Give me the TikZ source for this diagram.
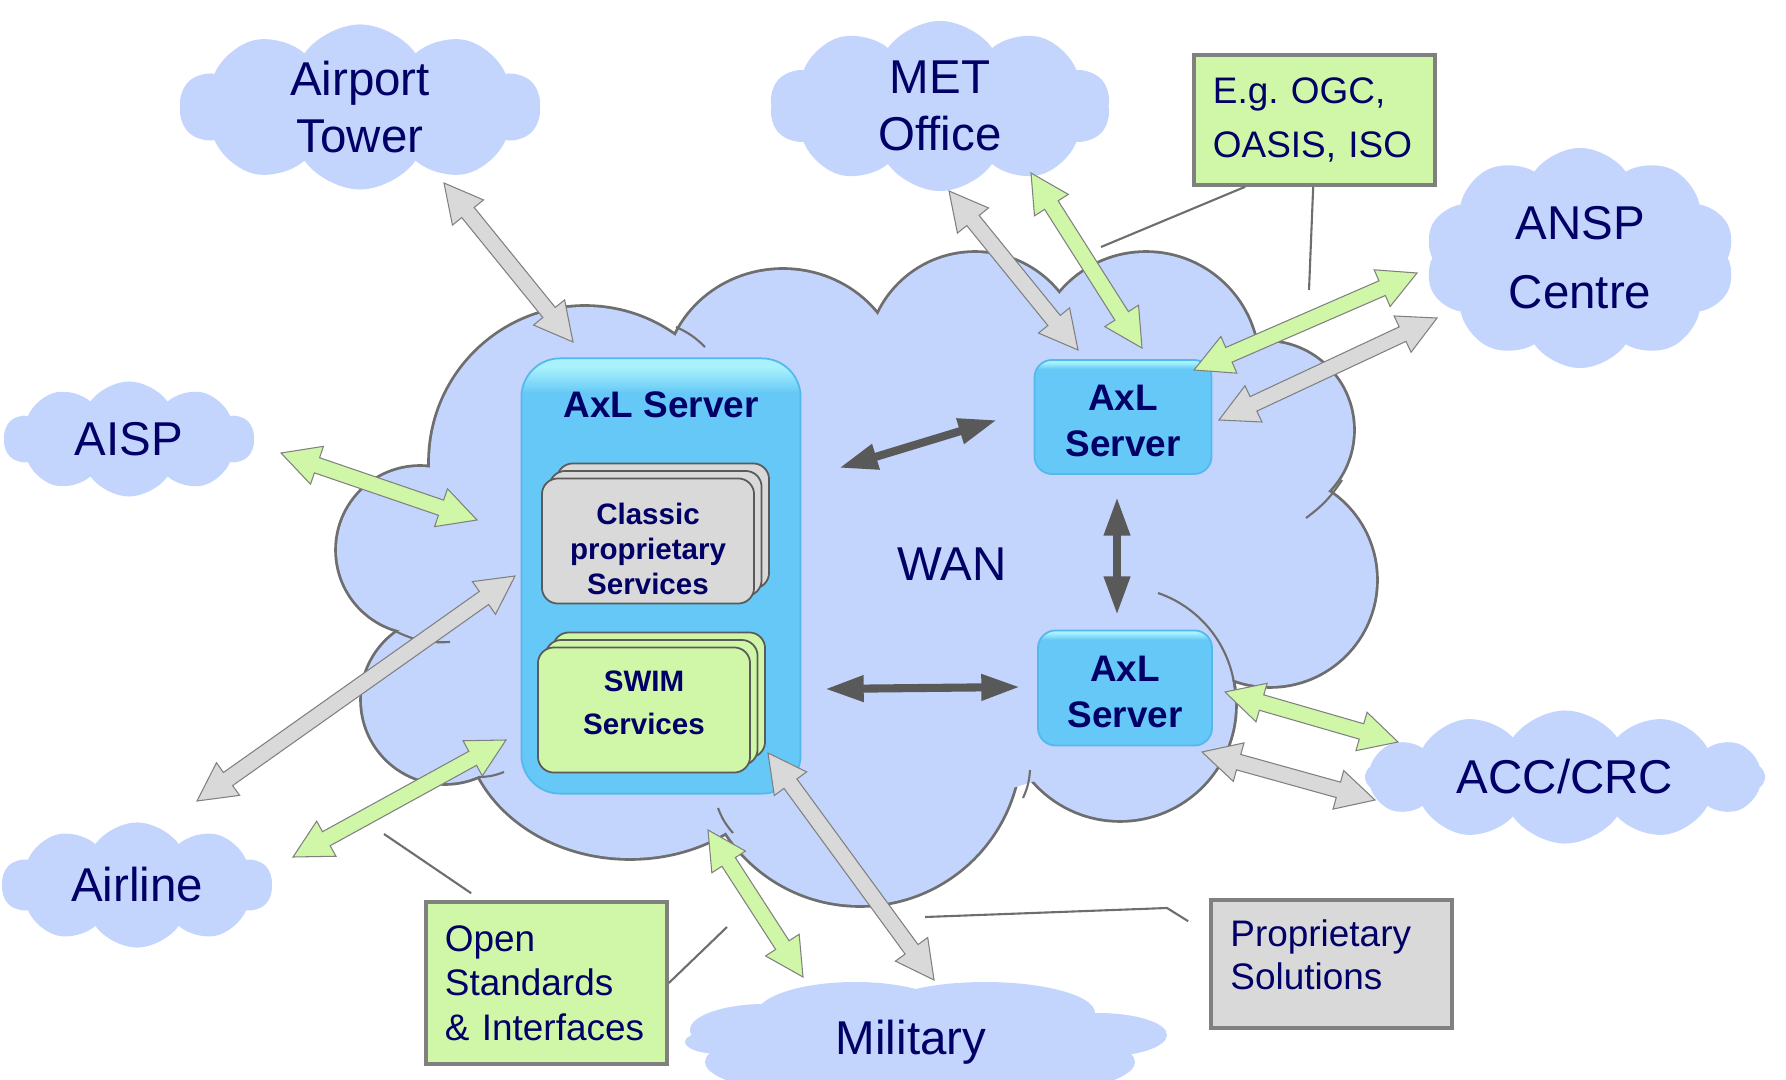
\documentclass[tikz,border=0pt]{standalone}
\usepackage{fontspec}
\setmainfont{Liberation Sans}
\usetikzlibrary{arrows.meta, positioning, calc, shapes.symbols}
\definecolor{navy}{HTML}{000066}
\definecolor{cloudblue}{HTML}{C3D5FD}
\definecolor{cloudline}{HTML}{6E6E6E}
\definecolor{stdgreen}{HTML}{D0F7A8}
\definecolor{propgray}{HTML}{D9D9D9}
\definecolor{edgegray}{HTML}{808080}
\definecolor{cardedge}{HTML}{5A5A5A}
\definecolor{darkarrow}{HTML}{595959}
\definecolor{axlblue}{HTML}{66C8F6}
\definecolor{axlhi}{HTML}{A8F2FC}
\definecolor{axledge}{HTML}{55B8EC}
\pgfdeclareverticalshading{axlglass}{100bp}{color(0bp)=(axlblue); color(71bp)=(axlblue); color(74bp)=(axlhi); color(100bp)=(axlhi)}
\frenchspacing
% double block arrow between two named points
\newcommand\fatarrow[3]{%
  \coordinate (fa1) at ($(#2)!0.38cm!(#3)$);
  \coordinate (fa2) at ($(#3)!0.38cm!(#2)$);
  \draw[#1] (#2) -- ($(fa1)!0.2cm!90:(#3)$) -- ($(fa1)!0.08cm!90:(#3)$)
    -- ($(fa2)!0.08cm!-90:(#2)$) -- ($(fa2)!0.2cm!-90:(#2)$) -- (#3)
    -- ($(fa2)!0.2cm!90:(#2)$) -- ($(fa2)!0.08cm!90:(#2)$)
    -- ($(fa1)!0.08cm!-90:(#3)$) -- ($(fa1)!0.2cm!-90:(#3)$) -- cycle;
}

\begin{document}
\begin{tikzpicture}[x=0.01cm, y=-0.01cm,
  puff/.style={cloud, cloud puffs=10, cloud puff arc=110, cloud ignores aspect,
               fill=cloudblue, inner sep=0pt, text=navy, align=center,
               font=\fontsize{13.5}{16.2}\selectfont},
  server/.style={shade, shading=axlglass, draw=axledge, line width=0.5pt, rounded corners=5pt,
                 text=navy, align=center, font=\bfseries\fontsize{10.5}{13}\selectfont},
  card/.style={draw=cardedge, line width=0.5pt, rounded corners=4.5pt, minimum width=2.12cm,
               minimum height=1.25cm, text=navy, align=center, font=\bfseries\fontsize{8.4}{10}\selectfont},
  note/.style={draw=edgegray, line width=1pt, minimum width=2.41cm, text width=2.03cm,
               inner xsep=0.19cm, align=left, text=navy, font=\fontsize{10.5}{12.6}\selectfont},
  wire/.style={{Triangle[length=11pt, width=7pt]}-{Triangle[length=11pt, width=7pt]},
               line width=2.3pt, draw=darkarrow},
  callout/.style={draw=cloudline, line width=0.6pt},
  greenarrow/.style={fill=stdgreen, draw=edgegray, line width=0.3pt},
  grayarrow/.style={fill=propgray, draw=edgegray, line width=0.3pt},
]
\useasboundingbox (0,0) rectangle (1786,1080);

% WAN cloud: outline first, then fill on top
\foreach \cx/\cy/\rx/\ry in {585/462/155/155, 420/550/83/83, 445/700/83/83, 630/720/165/138,
    860/745/160/160, 1120/705/115/115, 1270/580/106/106, 1265/430/88/88, 1146/365/112/112,
    975/360/107/107, 783/382/118/112}
  \draw[cloudline, line width=1.6pt] (\cx,\cy) ellipse[x radius=\rx, y radius=\ry];
\foreach \cx/\cy/\rx/\ry in {585/462/155/155, 420/550/83/83, 445/700/83/83, 630/720/165/138,
    860/745/160/160, 1120/705/115/115, 1270/580/106/106, 1265/430/88/88, 1146/365/112/112,
    975/360/107/107, 783/382/118/112, 850/580/380/230, 560/620/110/110, 1130/560/130/130}
  \fill[cloudblue] (\cx,\cy) ellipse[x radius=\rx, y radius=\ry];
\draw[callout] (676,327) to[bend left=10] (705,347);
\draw[callout] (393,630) to[bend right=15] (450,642);
\draw[callout] (479,777) to[bend right=10] (504,772);
\draw[callout] (718,808) to[bend right=10] (733,833);
\draw[callout] (1030,770) to[bend left=10] (1023,798);
\draw[callout] (1342,480) to[bend left=10] (1306,518);
\draw[callout] (1158,593) arc[start angle=-71, end angle=0, radius=115];
\node[text=navy, font=\fontsize{13.5}{16}\selectfont] (wan) at (952,564) {WAN};

% outside clouds
\node[puff, minimum width=3.6cm, minimum height=1.65cm] (tower) at (360,107) {Airport\\Tower};
\node[puff, minimum width=3.4cm, minimum height=1.7cm] (met) at (940,106) {MET\\Office};
\node[puff, minimum width=3.1cm, minimum height=2.2cm, font=\fontsize{13.5}{19.7}\selectfont] (ansp) at (1580,258) {ANSP\\Centre};
\node[puff, minimum width=2.5cm, minimum height=1.15cm] (aisp) at (129,439) {AISP};
\node[puff, minimum width=2.7cm, minimum height=1.25cm] (airline) at (137,885) {Airline};
\node[puff, cloud puffs=12, minimum width=4.0cm, minimum height=1.33cm] (acc) at (1565,777) {ACC/CRC};
\foreach \cx/\cy/\rx/\ry in {720/1042/35/12, 765/1030/75/26, 855/1016/100/34, 985/1013/110/31,
    1098/1035/69/22, 920/1062/215/42}
  \fill[cloudblue] (\cx,\cy) ellipse[x radius=\rx, y radius=\ry];
\node[text=navy, font=\fontsize{13.5}{16}\selectfont] (military) at (911,1042) {Military};

% servers
\node[server, rounded corners=11pt, minimum width=2.79cm, minimum height=4.35cm] (mainsrv) at (661,576) {};
\node[text=navy, font=\bfseries\fontsize{10.5}{13}\selectfont] (mainlbl) at (661,405) {AxL Server};
\foreach \k in {2,1}
  \node[card, fill=propgray] (cls\k) at (648+7.5*\k, 541-7.5*\k) {};
\node[card, fill=propgray] (cls) at (648,541) {};
\node[text=navy, align=center, font=\bfseries\fontsize{8.4}{10}\selectfont] (clslbl) at (648,549) {Classic\\proprietary\\Services};
\foreach \k in {2,1}
  \node[card, fill=stdgreen] (swim\k) at (644+7.5*\k, 710-7.5*\k) {};
\node[card, fill=stdgreen] (swim) at (644,710) {};
\node[text=navy, align=center, font=\bfseries\fontsize{8.4}{12.3}\selectfont] (swimlbl) at (644,703) {SWIM\\Services};
\node[server, minimum width=1.77cm, minimum height=1.14cm] (srvA) at (1123,417) {};
\node[text=navy, align=center, font=\bfseries\fontsize{10.5}{13}\selectfont] (srvAlbl) at (1123,421) {AxL\\Server};
\node[server, minimum width=1.74cm, minimum height=1.15cm] (srvB) at (1125,688) {};
\node[text=navy, align=center, font=\bfseries\fontsize{10.5}{13}\selectfont] (srvBlbl) at (1125,692) {AxL\\Server};

% callout boxes
\node[note, fill=stdgreen, minimum height=1.30cm, font=\fontsize{10.5}{15.2}\selectfont] (egbox) at (1314.5,120) {E.g. OGC,\\OASIS, ISO};
\node[note, fill=stdgreen, minimum height=1.62cm] (stdbox) at (546.5,983) {Open\\Standards\\\& Interfaces};
\node[note, fill=propgray, minimum height=1.28cm] (propbox) at (1331.5,964) {};
\node[text=navy, align=left, font=\fontsize{10.5}{12.3}\selectfont, anchor=west] (proplbl) at (1218,955) {Proprietary\\Solutions};

% arrow ends
\coordinate (tw-a) at (444,183);   \coordinate (tw-b) at (573,342);
\coordinate (met-a) at (949,191);  \coordinate (met-b) at (1078,350);
\coordinate (met-c) at (1031,173); \coordinate (met-d) at (1142,348);
\coordinate (ansp-a) at (1417,273); \coordinate (ansp-b) at (1194,370);
\coordinate (ansp-c) at (1437,318); \coordinate (ansp-d) at (1219,420);
\coordinate (aisp-a) at (281,453); \coordinate (aisp-b) at (477,520);
\coordinate (al-a) at (515,576);   \coordinate (al-b) at (197,801);
\coordinate (al-c) at (506,740);   \coordinate (al-d) at (293,857);
\coordinate (mil-a) at (708,830);  \coordinate (mil-b) at (803,977);
\coordinate (mil-c) at (768,753);  \coordinate (mil-d) at (934,980);
\coordinate (acc-a) at (1225,692); \coordinate (acc-b) at (1398,742);
\coordinate (acc-c) at (1202,752); \coordinate (acc-d) at (1375,800);

\fatarrow{grayarrow}{tw-a}{tw-b}
\fatarrow{grayarrow}{met-a}{met-b}
\fatarrow{greenarrow}{met-c}{met-d}
\fatarrow{greenarrow}{ansp-a}{ansp-b}
\fatarrow{grayarrow}{ansp-c}{ansp-d}
\fatarrow{greenarrow}{aisp-a}{aisp-b}
\fatarrow{grayarrow}{al-a}{al-b}
\fatarrow{greenarrow}{al-c}{al-d}
\fatarrow{greenarrow}{mil-a}{mil-b}
\fatarrow{grayarrow}{mil-c}{mil-d}
\fatarrow{greenarrow}{acc-a}{acc-b}
\fatarrow{grayarrow}{acc-c}{acc-d}

% links between servers
\coordinate (lk1a) at (839,468);  \coordinate (lk1b) at (997,420);
\coordinate (lk2a) at (1117,497); \coordinate (lk2b) at (1117,615);
\coordinate (lk3a) at (825,689);  \coordinate (lk3b) at (1020,687);
\draw[wire] (lk1a) -- (lk1b);
\draw[wire] (lk2a) -- (lk2b);
\draw[wire] (lk3a) -- (lk3b);

% callout lines
\coordinate (eg-tip1) at (1101,247);
\coordinate (eg-tip2) at (1309,290);
\coordinate (std-tip1) at (384,834);
\coordinate (std-tip2) at (727,927);
\coordinate (prop-tip) at (925,917);
\draw[callout] ($(egbox.south west)+(53,0)$) -- (eg-tip1);
\draw[callout] ($(egbox.south west)+(121,0)$) -- (eg-tip2);
\draw[callout] ($(stdbox.north west)+(47,-7)$) -- (std-tip1);
\draw[callout] (stdbox.east) -- (std-tip2);
\draw[callout] ($(propbox.north west)+(-21,23)$) -- (1167,908) -- (prop-tip);
\end{tikzpicture}
\end{document}
